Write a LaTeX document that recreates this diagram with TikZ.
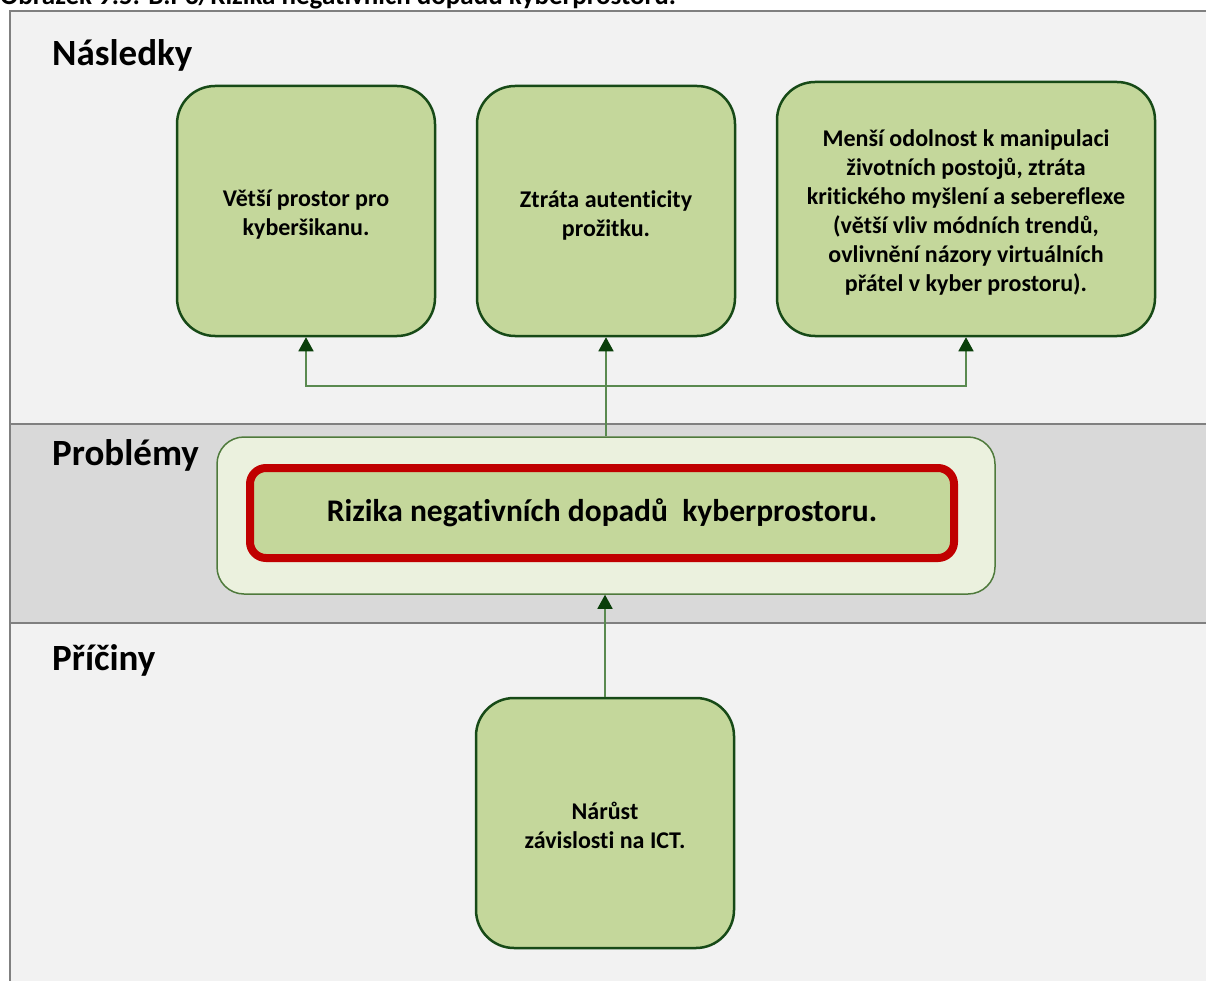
\documentclass[tikz,border=0pt]{standalone}
\usepackage{fontspec}
\setmainfont{Carlito}[Ligatures={NoCommon}]
\usetikzlibrary{arrows.meta}

\definecolor{bandlight}{HTML}{F2F2F2}
\definecolor{bandmid}{HTML}{D9D9D9}
\definecolor{framegray}{HTML}{808080}
\definecolor{boxfill}{HTML}{C4D79B}
\definecolor{boxedge}{HTML}{174A17}
\definecolor{probfill}{HTML}{EBF1DE}
\definecolor{probedge}{HTML}{4F7A3C}
\definecolor{riskred}{HTML}{C00000}
\definecolor{linkgreen}{HTML}{5A8A50}
\definecolor{tipgreen}{HTML}{0A3F0A}

\tikzset{
  bandlabel/.style={anchor=base west, inner sep=0pt, font=\bfseries\fontsize{37}{41}\selectfont},
  greenbox/.style={draw=boxedge, fill=boxfill, line width=2.5pt, rounded corners=38pt,
    inner sep=0pt},
  boxtext/.style={inner sep=0pt, align=center, font=\bfseries\fontsize{24}{29}\selectfont},
  link/.style={draw=linkgreen, line width=1.5pt,
    -{Triangle[width=15pt,length=14pt,color=tipgreen]}},
  linkplain/.style={draw=linkgreen, line width=1.5pt},
}

\begin{document}
\begin{tikzpicture}[x=1pt,y=-1pt]
\useasboundingbox (0,0) rectangle (1206,981);

% background bands of the frame
\fill[bandlight] (10,11) rectangle (1220,424);
\fill[bandmid] (10,424) rectangle (1220,623);
\fill[bandlight] (10,623) rectangle (1220,995);
\draw[framegray, line width=2pt] (10,995) -- (10,11) -- (1220,11);
\draw[framegray, line width=2pt] (10,424) -- (1220,424);
\draw[framegray, line width=2pt] (10,623) -- (1220,623);

% caption above the frame
\node[anchor=base west, inner sep=0pt, font=\bfseries\fontsize{27}{31}\selectfont]
  (caption) at (0,5) {Obrázek 9.5: B.P3/Rizika negativních dopadů kyberprostoru.};

% band labels
\node[bandlabel] (lnasl) at (52,66) {Následky};
\node[bandlabel] (lprob) at (52,465) {Problémy};
\node[bandlabel] (lpric) at (52,670) {Příčiny};

% consequences
\node[greenbox, minimum width=258pt, minimum height=250pt] (c1) at (306,211) {};
\node[boxtext] (c1t) at ([yshift=-4pt]c1.center) {Větší prostor pro\\kyberšikanu.};
\node[greenbox, minimum width=258pt, minimum height=250pt] (c2) at (606,211) {};
\node[boxtext] (c2t) at ([yshift=-4pt]c2.center) {Ztráta autenticity\\prožitku.};
\node[greenbox, minimum width=378pt, minimum height=254pt] (c3) at (966,209) {};
\node[boxtext] (c3t) at ([yshift=-3pt]c3.center)
  {Menší odolnost k manipulaci\\životních postojů, ztráta\\kritického myšlení a sebereflexe\\(větší vliv módních trendů,\\ovlivnění názory virtuálních\\přátel v kyber prostoru).};

% problem
\node[draw=probedge, fill=probfill, line width=1.5pt, rounded corners=27pt,
  minimum width=778pt, minimum height=157pt, inner sep=0pt] (prob) at (606,515.5) {};
\node[draw=riskred, fill=boxfill, line width=8pt, rounded corners=16pt,
  minimum width=704pt, minimum height=90pt, inner sep=0pt,
  font=\bfseries\fontsize{31.5}{36}\selectfont] (risk) at (602,513)
  {Rizika negativních dopadů~ kyberprostoru.};

% cause
\node[greenbox, minimum width=258pt, minimum height=250pt] (cause) at (605,823) {};
\node[boxtext] (causet) at ([yshift=-2pt]cause.center) {Nárůst\\závislosti na ICT.};

% connectors
\coordinate (split) at (prob.north |- 0,386);
\draw[linkplain] (prob.north) -- (split);
\draw[link] (split) -| (c1.south);
\draw[link] (split) -- (c2.south);
\draw[link] (split) -| (c3.south);
\draw[link] (cause.north) -- (cause.north |- prob.south);
\end{tikzpicture}
\end{document}
